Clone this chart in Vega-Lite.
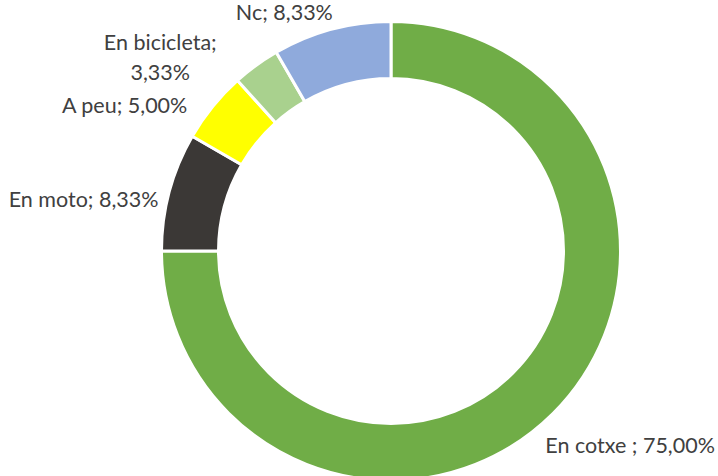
{
  "$schema": "https://vega.github.io/schema/vega-lite/v6.json",
  "width": 654,
  "height": 450,
  "autosize": {"type": "none"},
  "padding": {"left": 64, "top": 26, "right": 0, "bottom": 0},
  "background": "white",
  "view": {"stroke": null},
  "data": {
    "values": [
      {"categoria": "En cotxe", "valor": 75.0, "etiqueta": "En cotxe ; 75,00%", "ordre": 1},
      {"categoria": "En moto", "valor": 8.33, "etiqueta": "En moto; 8,33%", "ordre": 2},
      {"categoria": "A peu", "valor": 5.0, "etiqueta": "A peu; 5,00%", "ordre": 3},
      {"categoria": "En bicicleta", "valor": 3.33, "etiqueta": "En bicicleta;\n3,33%", "ordre": 4},
      {"categoria": "Nc", "valor": 8.33, "etiqueta": "Nc; 8,33%", "ordre": 5}
    ]
  },
  "encoding": {
    "theta": {"field": "valor", "type": "quantitative", "stack": true},
    "order": {"field": "ordre", "type": "quantitative"}
  },
  "layer": [
    {
      "mark": {"type": "arc", "outerRadius": 229.5, "innerRadius": 172.5, "stroke": "white", "strokeWidth": 3},
      "encoding": {
        "color": {
          "field": "categoria",
          "type": "nominal",
          "scale": {
            "domain": ["En cotxe", "En moto", "A peu", "En bicicleta", "Nc"],
            "range": ["#70AD47", "#3B3836", "#FFFF00", "#A9D18E", "#8FAADC"]
          },
          "legend": null
        }
      }
    },
    {
      "mark": {"type": "text", "radius": 248, "align": "right", "baseline": "middle", "font": "Lato", "fontSize": 21.5, "color": "#404040", "dx": 6, "dy": 3},
      "encoding": {"text": {"condition": {"test": "datum.categoria === 'Nc'", "field": "etiqueta"}, "value": ""}}
    },
    {
      "mark": {"type": "text", "radius": 248, "align": "right", "baseline": "middle", "font": "Lato", "fontSize": 21.5, "color": "#404040", "dx": -11, "dy": 12},
      "encoding": {"text": {"condition": {"test": "datum.categoria === 'A peu'", "field": "etiqueta"}, "value": ""}}
    },
    {
      "mark": {"type": "text", "radius": 248, "align": "right", "baseline": "middle", "font": "Lato", "fontSize": 21.5, "color": "#404040", "dx": 7, "dy": 14},
      "encoding": {"text": {"condition": {"test": "datum.categoria === 'En moto'", "field": "etiqueta"}, "value": ""}}
    },
    {
      "mark": {"type": "text", "radius": 248, "align": "center", "baseline": "middle", "lineBreak": "\n", "lineHeight": 30, "font": "Lato", "fontSize": 21.5, "color": "#404040", "dx": -85, "dy": -6},
      "encoding": {"text": {"condition": {"test": "datum.categoria === 'En bicicleta'", "field": "etiqueta"}, "value": ""}}
    },
    {
      "mark": {"type": "text", "radius": 248, "align": "left", "baseline": "middle", "font": "Lato", "fontSize": 21.5, "color": "#404040", "dx": -21, "dy": 21},
      "encoding": {"text": {"condition": {"test": "datum.categoria === 'En cotxe'", "field": "etiqueta"}, "value": ""}}
    }
  ]
}
